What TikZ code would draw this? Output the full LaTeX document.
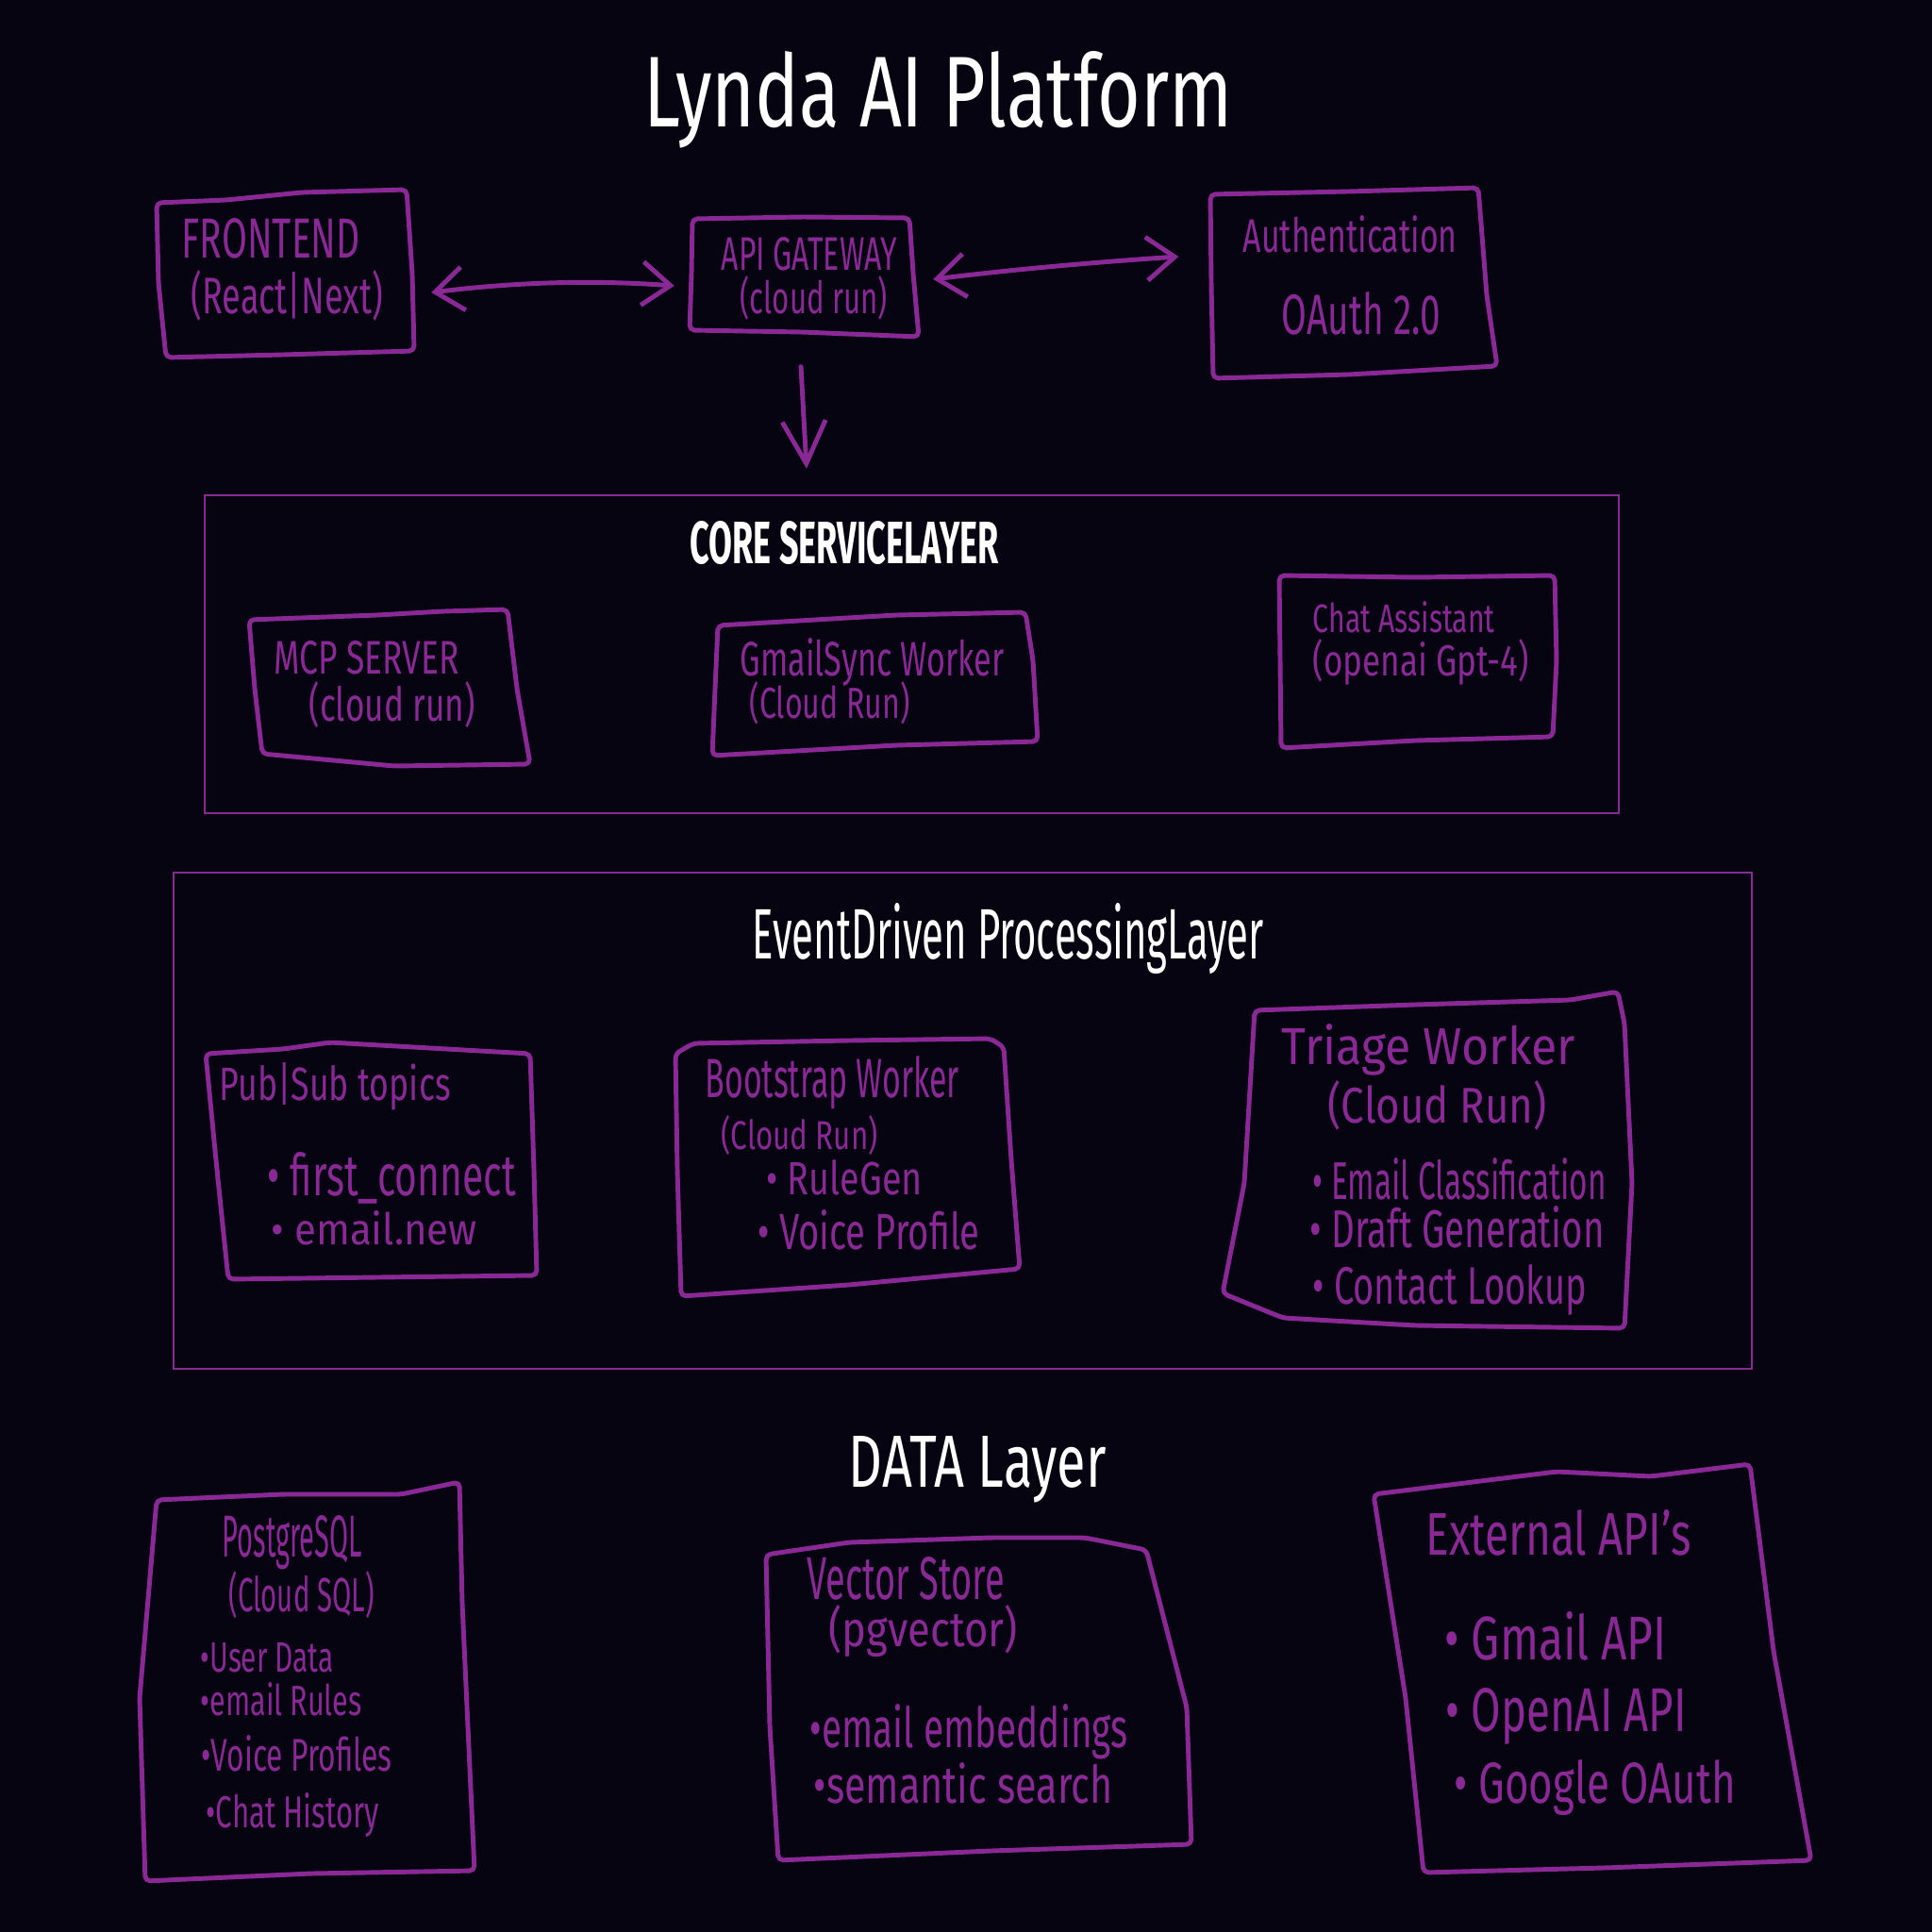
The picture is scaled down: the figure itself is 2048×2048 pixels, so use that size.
\documentclass[tikz,border=0pt]{standalone}
\usepackage{fontspec}
\setmainfont{Fira Sans}
\usepackage{graphicx}
\usetikzlibrary{arrows.meta,calc}
\definecolor{bgc}{RGB}{5,4,16}
\definecolor{pur}{RGB}{138,40,150}
\newcommand\hw[3]{\resizebox{#1mm}{#2mm}{#3}}
\begin{document}
\begin{tikzpicture}[x=0.1mm,y=-0.1mm,
  box/.style={draw=pur,line width=1.4pt,line join=round,line cap=round,rounded corners=1.5pt},
  layerbox/.style={draw=pur,line width=0.6pt,inner sep=0},
  hidden/.style={draw=none,inner sep=0},
  lbl/.style={anchor=base west,inner sep=0,text=pur},
  ttl/.style={anchor=base west,inner sep=0,text=white},
  arr/.style={draw=pur,line width=1.4pt,line cap=round,line join=round},
  barb/.tip={Straight Barb[length=3mm,width=4.6mm]}
]
\fill[bgc] (0,0) rectangle (2048,2048);

% title
\node[ttl] (title) at (682,135) {\hw{62.4}{8.0}{Lynda AI Platform}};

% top row boxes
\node[hidden,minimum width=27.3mm,minimum height=17.7mm] (fe) at (302,290) {};
\node[hidden,minimum width=24.3mm,minimum height=12.6mm] (api) at (852,294) {};
\node[hidden,minimum width=30.4mm,minimum height=20.2mm] (auth) at (1435,300) {};
\draw[box] (166,215) -- (240,212) -- (320,204) -- (431,201) -- (437,290) -- (439,372) -- (300,376) -- (176,379) -- (168,300) -- cycle;
\draw[box] (734,232) -- (850,230) -- (964,231) -- (968,290) -- (974,357) -- (850,352) -- (731,350) -- (733,290) -- cycle;
\draw[box] (1283,206) -- (1430,203) -- (1567,199) -- (1576,313) -- (1587,388) -- (1430,397) -- (1286,401) -- (1284,300) -- cycle;
\node[lbl] (fe1) at (192,274) {\hw{18.9}{4.2}{FRONTEND}};
\node[lbl] (fe2) at (202,333) {\hw{20.3}{4.6}{(React|Next)}};
\node[lbl] (api1) at (764,287) {\hw{18.6}{3.5}{API GATEWAY}};
\node[lbl] (api2) at (784,333) {\hw{15.6}{4.0}{(cloud run)}};
\node[lbl] (auth1) at (1317,268) {\hw{22.7}{3.9}{Authentication}};
\node[lbl] (auth2) at (1358,355) {\hw{16.8}{4.5}{OAuth 2.0}};

% arrows
\draw[arr,barb-barb] ($(fe.east)+(18,20)$) .. controls (540,300) and (620,296) .. ($(api.west)+(-15,9)$);
\draw[arr,barb-barb] ($(api.east)+(15,2)$) .. controls (1080,285) and (1160,278) .. ($(auth.west)+(-33,-28)$);
\draw[arr,-{Straight Barb[length=4.5mm,width=4.6mm]}] ($(api.south)+(-3,31)$) -- ($(api.south)+(3,139)$);

% core service layer
\node[layerbox,minimum width=149.9mm,minimum height=33.7mm] (core) at (966.5,693.5) {};
\node[ttl] (coret) at (731,597) {\hw{32.7}{4.5}{\bfseries CORE SERVICELAYER}};
\draw[box] (264,657) -- (400,652) -- (470,648) -- (538,646) -- (548,730) -- (562,810) -- (418,812) -- (278,799) -- (270,730) -- cycle;
\draw[box] (761,663) -- (950,652) -- (1087,649) -- (1095,700) -- (1100,786) -- (950,790) -- (755,801) -- (758,730) -- cycle;
\draw[box] (1356,610) -- (1500,612) -- (1648,610) -- (1650,700) -- (1646,781) -- (1500,785) -- (1358,793) -- (1357,700) -- cycle;
\node[lbl] (mcp1) at (290,714) {\hw{19.6}{3.5}{MCP SERVER}};
\node[lbl] (mcp2) at (327,764) {\hw{17.6}{4.2}{(cloud run)}};
\node[lbl] (gsw1) at (784,716) {\hw{28.0}{4.0}{GmailSync Worker}};
\node[lbl] (gsw2) at (794,761) {\hw{17.0}{3.9}{(Cloud Run)}};
\node[lbl] (chat1) at (1391,670) {\hw{19.3}{3.3}{Chat Assistant}};
\node[lbl] (chat2) at (1391,716) {\hw{22.9}{3.9}{(openai Gpt-4)}};

% event driven layer
\node[layerbox,minimum width=167.3mm,minimum height=52.6mm] (evt) at (1020.5,1188) {};
\node[ttl] (evtt) at (797,1016) {\hw{54.2}{5.9}{EventDriven ProcessingLayer}};
\draw[box] (218,1117) -- (300,1112) -- (350,1105) -- (562,1117) -- (566,1240) -- (569,1352) -- (400,1354) -- (242,1356) -- (230,1240) -- cycle;
\draw[box] (716,1117) -- (735,1106) -- (900,1103) -- (1050,1101) -- (1064,1110) -- (1072,1230) -- (1081,1345) -- (900,1362) -- (722,1374) -- (718,1240) -- cycle;
\draw[box] (1330,1071) -- (1500,1065) -- (1665,1060) -- (1715,1051) -- (1722,1085) -- (1730,1254) -- (1722,1408) -- (1500,1405) -- (1360,1397) -- (1296,1371) -- (1319,1254) -- cycle;
\node[lbl] (ps1) at (232,1166) {\hw{24.5}{4.0}{Pub|Sub topics}};
\node[lbl] (ps2) at (283,1267) {\hw{26.3}{4.6}{• first\_connect}};
\node[lbl] (ps3) at (287,1319) {\hw{21.8}{3.6}{• email.new}};
\node[lbl] (boot1) at (747,1163) {\hw{26.9}{4.4}{Bootstrap Worker}};
\node[lbl] (boot2) at (764,1218) {\hw{16.6}{3.6}{(Cloud Run)}};
\node[lbl] (boot3) at (812,1266) {\hw{16.5}{3.7}{• RuleGen}};
\node[lbl] (boot4) at (803,1324) {\hw{23.5}{4.2}{• Voice Profile}};
\node[lbl] (tri1) at (1358,1128) {\hw{31.1}{4.3}{Triage Worker}};
\node[lbl] (tri2) at (1407,1190) {\hw{23.2}{4.5}{(Cloud Run)}};
\node[lbl] (tri3) at (1391,1271) {\hw{31.1}{4.4}{• Email Classification}};
\node[lbl] (tri4) at (1388,1322) {\hw{31.2}{4.4}{• Draft Generation}};
\node[lbl] (tri5) at (1391,1382) {\hw{29.0}{4.2}{• Contact Lookup}};

% data layer
\node[ttl] (datat) at (899,1576) {\hw{27.3}{5.4}{DATA Layer}};
\draw[box] (166,1590) -- (300,1584) -- (425,1584) -- (487,1571) -- (490,1700) -- (503,1983) -- (330,1986) -- (154,1994) -- (148,1800) -- cycle;
\draw[box] (812,1648) -- (900,1635) -- (1050,1630) -- (1150,1630) -- (1215,1643) -- (1258,1810) -- (1263,1955) -- (1050,1962) -- (825,1972) -- (816,1830) -- cycle;
\draw[box] (1456,1584) -- (1650,1560) -- (1750,1565) -- (1855,1552) -- (1880,1750) -- (1920,1972) -- (1700,1980) -- (1509,1985) -- (1490,1800) -- cycle;
\node[lbl] (pg1) at (235,1650) {\hw{14.8}{4.4}{PostgreSQL}};
\node[lbl] (pg2) at (242,1708) {\hw{15.4}{4.3}{(Cloud SQL)}};
\node[lbl] (pg3) at (212,1772) {\hw{14.1}{3.1}{•User Data}};
\node[lbl] (pg4) at (212,1818) {\hw{17.1}{3.5}{•email Rules}};
\node[lbl] (pg5) at (213,1877) {\hw{20.2}{3.8}{•Voice Profiles}};
\node[lbl] (pg6) at (218,1937) {\hw{18.3}{3.7}{•Chat History}};
\node[lbl] (vec1) at (855,1695) {\hw{20.9}{4.5}{Vector Store}};
\node[lbl] (vec2) at (878,1745) {\hw{20.0}{4.4}{(pgvector)}};
\node[lbl] (vec3) at (858,1852) {\hw{33.7}{4.6}{•email embeddings}};
\node[lbl] (vec4) at (862,1911) {\hw{31.7}{4.3}{•semantic search}};
\node[lbl] (ext1) at (1511,1648) {\hw{28.1}{4.8}{External API's}};
\node[lbl] (ext2) at (1531,1759) {\hw{23.5}{5.1}{• Gmail API}};
\node[lbl] (ext3) at (1532,1835) {\hw{25.5}{4.6}{• OpenAI API}};
\node[lbl] (ext4) at (1541,1911) {\hw{29.8}{4.6}{• Google OAuth}};
\end{tikzpicture}
\end{document}
